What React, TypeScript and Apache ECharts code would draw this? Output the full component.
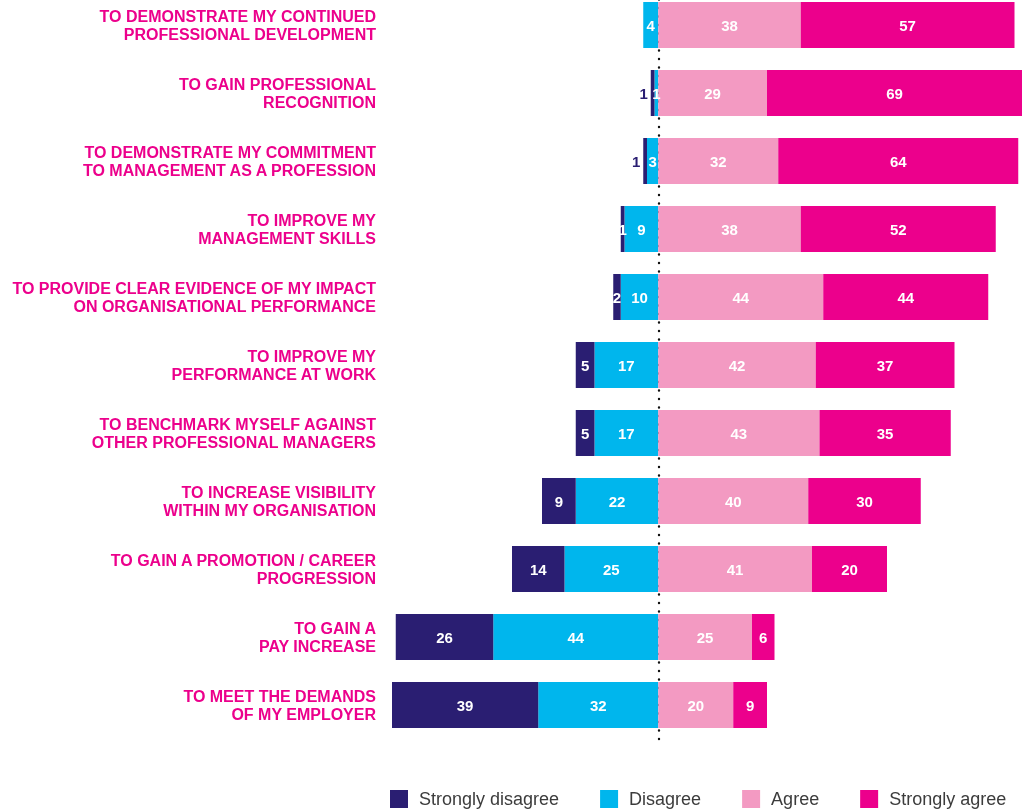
import React, { useEffect, useRef } from "react";
import * as echarts from "echarts";

const categories = [
  "TO DEMONSTRATE MY CONTINUED\nPROFESSIONAL DEVELOPMENT",
  "TO GAIN PROFESSIONAL\nRECOGNITION",
  "TO DEMONSTRATE MY COMMITMENT\nTO MANAGEMENT AS A PROFESSION",
  "TO IMPROVE MY\nMANAGEMENT SKILLS",
  "TO PROVIDE CLEAR EVIDENCE OF MY IMPACT\nON ORGANISATIONAL PERFORMANCE",
  "TO IMPROVE MY\nPERFORMANCE AT WORK",
  "TO BENCHMARK MYSELF AGAINST\nOTHER PROFESSIONAL MANAGERS",
  "TO INCREASE VISIBILITY\nWITHIN MY ORGANISATION",
  "TO GAIN A PROMOTION / CAREER\nPROGRESSION",
  "TO GAIN A\nPAY INCREASE",
  "TO MEET THE DEMANDS\nOF MY EMPLOYER",
];

const stronglyDisagree = [0, 1, 1, 1, 2, 5, 5, 9, 14, 26, 39];
const disagree = [4, 1, 3, 9, 10, 17, 17, 22, 25, 44, 32];
const agree = [38, 29, 32, 38, 44, 42, 43, 40, 41, 25, 20];
const stronglyAgree = [57, 69, 64, 52, 44, 37, 35, 30, 20, 6, 9];

const seriesNames = ["Strongly disagree", "Disagree", "Agree", "Strongly agree"];
const colors = {
  "Strongly disagree": "#2A1E72",
  Disagree: "#00B6ED",
  Agree: "#F39AC2",
  "Strongly agree": "#EC008C",
};

const FONT = "'Liberation Sans', Arial, Helvetica, sans-serif";

export default function App() {
  const ref = useRef<HTMLDivElement>(null);

  useEffect(() => {
    if (!ref.current) return;
    const chart = echarts.init(ref.current, undefined, { renderer: "svg" });

    const barLabel = {
      show: true,
      position: "inside",
      color: "#ffffff",
      fontWeight: "bold",
      fontSize: 15,
      fontFamily: FONT,
      formatter: (p: any) => (p.value === 0 ? "" : String(Math.abs(p.value))),
    };

    const mk = (name: string, items: any[]) => ({
      name,
      type: "bar",
      stack: "total",
      barWidth: 46,
      z: 3,
      itemStyle: { color: (colors as any)[name] },
      label: barLabel,
      emphasis: { disabled: true },
      data: items,
    });

    // tiny "strongly disagree" slivers next to tiny "disagree" slivers: put the label just outside
    const sdItems = stronglyDisagree.map((v, i) =>
      v > 0 && v <= 1 && disagree[i] <= 3
        ? {
            value: -v,
            label: { position: "left", distance: 3, color: "#2A1E72" },
          }
        : -v
    );
    const dItems = disagree.map((v) => -v);

    chart.setOption({
      animation: false,
      textStyle: { fontFamily: FONT },
      grid: {
        left: 377,
        right: 7,
        top: -9,
        height: 748,
        outerBoundsMode: "none",
        containLabel: false,
      },
      xAxis: {
        type: "value",
        min: -75,
        max: 97,
        show: false,
        splitLine: { show: false },
      },
      yAxis: {
        type: "category",
        inverse: true,
        data: categories,
        axisLine: { show: false },
        axisTick: { show: false },
        axisLabel: {
          color: "#EC008C",
          fontWeight: "bold",
          fontSize: 16,
          lineHeight: 18,
          fontFamily: FONT,
          align: "right",
          margin: 1,
        },
      },
      legend: {
        data: seriesNames,
        left: 390,
        top: 790,
        itemWidth: 18,
        itemHeight: 18,
        itemGap: 41,
        icon: "rect",
        selectedMode: false,
        padding: 0,
        textStyle: {
          fontSize: 18,
          color: "#3c3c3c",
          fontFamily: FONT,
          padding: [0, 0, 0, 6],
        },
      },
      series: [
        {
          name: "zero",
          type: "line",
          data: [],
          z: 1,
          silent: true,
          markLine: {
            silent: true,
            z: 1,
            symbol: "none",
            label: { show: false },
            lineStyle: { color: "#111", width: 2.4, type: [0.1, 8.4], cap: "round" },
            data: [{ xAxis: 0 }],
          },
        },
        mk("Disagree", dItems),
        mk("Strongly disagree", sdItems),
        mk("Agree", agree),
        mk("Strongly agree", stronglyAgree),
      ],
    });

    return () => chart.dispose();
  }, []);

  return (
    <div
      ref={ref}
      style={{ position: "fixed", left: 0, top: 0, width: 1029, height: 812 }}
    />
  );
}
